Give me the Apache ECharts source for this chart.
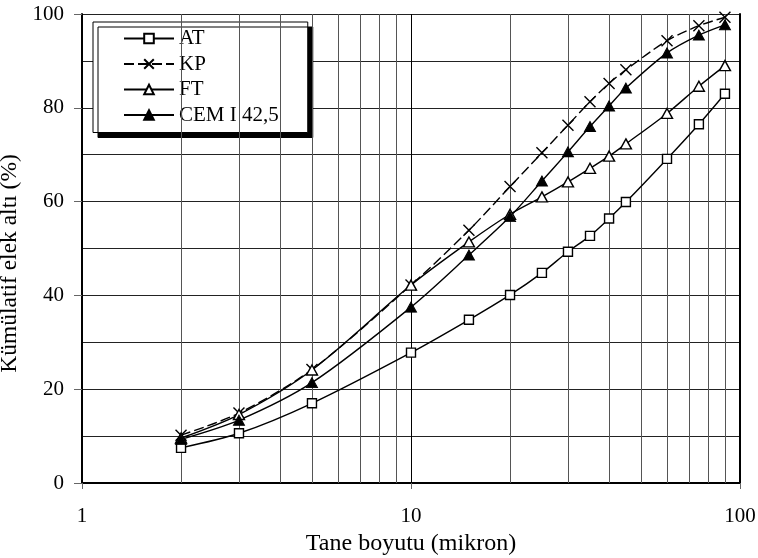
<!DOCTYPE html>
<html>
<head>
<meta charset="utf-8">
<script src="https://cdn.jsdelivr.net/npm/echarts@6/dist/echarts.min.js"></script>
<style>
  html, body { margin: 0; padding: 0; background: #fff; }
  #chart { width: 758px; height: 558px; }
</style>
</head>
<body>
<div id="chart"></div>
<script>
// Particle size (micron) at which each cumulative passing value was measured
const sizes = [2, 3, 5, 10, 15, 20, 25, 30, 35, 40, 45, 60, 75, 90];

// Cumulative passing (%) per material
const atValues  = [7.5, 10.6, 17.0, 27.8, 34.8, 40.1, 44.8, 49.3, 52.7, 56.4, 59.9, 69.1, 76.5, 83.0];
const kpValues  = [10.2, 14.9, 24.2, 42.2, 53.9, 63.2, 70.4, 76.3, 81.3, 85.2, 88.1, 94.3, 97.5, 99.3];
const ftValues  = [9.6, 14.6, 24.1, 42.2, 51.4, 57.3, 61.0, 64.2, 67.1, 69.7, 72.3, 78.8, 84.6, 89.0];
const cemValues = [9.3, 13.4, 21.4, 37.5, 48.6, 56.8, 64.4, 70.6, 76.0, 80.4, 84.2, 91.7, 95.5, 97.7];

const seriesNames = ['AT', 'KP', 'FT', 'CEM I 42,5'];

// Intermediate decade lines of the log grid
const minorSizes = [2, 3, 4, 5, 6, 7, 8, 9, 20, 30, 40, 50, 60, 70, 80, 90];

const FONT = "'Times New Roman', 'Liberation Serif', serif";
const pairs = vals => sizes.map((s, i) => [s, vals[i]]);

const crossPath = 'path://M0,0L10,10M10,0L0,10';

const chart = echarts.init(document.getElementById('chart'), null, { renderer: 'canvas' });

chart.setOption({
  backgroundColor: '#fff',
  animation: false,
  grid: { left: 82, right: 18, top: 14, bottom: 75, containLabel: false, outerBoundsMode: 'none' },
  legend: {
    orient: 'vertical',
    left: 93,
    top: 22,
    data: seriesNames,
    itemWidth: 50,
    itemHeight: 12,
    itemGap: 4.5,
    padding: [6, 29, 7, 30],
    backgroundColor: '#fff',
    borderColor: '#000',
    borderWidth: 1,
    shadowColor: '#000',
    shadowBlur: 0,
    shadowOffsetX: 5,
    shadowOffsetY: 5,
    textStyle: { fontFamily: FONT, fontSize: 21, color: '#000', padding: [0, 0, 0, 0] }
  },
  xAxis: {
    type: 'log',
    logBase: 10,
    min: 1,
    max: 100,
    name: 'Tane boyutu (mikron)',
    nameLocation: 'middle',
    nameGap: 39,
    nameTextStyle: { fontFamily: FONT, fontSize: 24, color: '#000' },
    axisLine: { show: true, lineStyle: { color: '#000', width: 2 } },
    axisTick: { show: true, length: 6, lineStyle: { color: '#666', width: 1 } },
    axisLabel: { fontFamily: FONT, fontSize: 21, color: '#000', margin: 23 },
    splitLine: { show: true, lineStyle: { color: '#000', width: 1 } },
    minorTick: { show: false },
    minorSplitLine: { show: false }
  },
  yAxis: [{
    type: 'value',
    min: 0,
    max: 100,
    interval: 20,
    name: 'Kümülatif elek altı (%)',
    nameLocation: 'middle',
    nameGap: 41,
    nameTextStyle: { fontFamily: FONT, fontSize: 23.5, color: '#000', padding: [0, 30, 0, 0] },
    axisLine: { show: true, lineStyle: { color: '#000', width: 2 } },
    axisTick: { show: true, length: 8, lineStyle: { color: '#666', width: 1 } },
    axisLabel: { fontFamily: FONT, fontSize: 21, color: '#000', margin: 18 },
    splitLine: { show: true, lineStyle: { color: '#222', width: 1 } },
    minorTick: { show: false, splitNumber: 2 },
    minorSplitLine: { show: true, lineStyle: { color: '#222', width: 1 } }
  }, {
    type: 'value',
    position: 'right',
    min: 0,
    max: 100,
    interval: 20,
    axisLine: { show: true, lineStyle: { color: '#000', width: 2 } },
    axisTick: { show: false },
    axisLabel: { show: false },
    splitLine: { show: false }
  }],
  series: [
    {
      name: '',
      type: 'line',
      data: [],
      silent: true,
      z: 1,
      markLine: {
        silent: true,
        symbol: 'none',
        label: { show: false },
        lineStyle: { color: '#555', width: 1, type: 'solid' },
        data: minorSizes.map(v => ({ xAxis: v }))
      }
    },
    {
      name: seriesNames[0],
      type: 'line',
      data: pairs(atValues),
      smooth: 0.3,
      z: 5,
      symbol: 'rect',
      symbolSize: 9,
      showSymbol: true,
      lineStyle: { color: '#000', width: 1.4 },
      itemStyle: { color: '#fff', borderColor: '#000', borderWidth: 1.4 }
    },
    {
      name: seriesNames[1],
      type: 'line',
      data: pairs(kpValues),
      smooth: 0.3,
      z: 5,
      symbol: crossPath,
      symbolSize: 11,
      lineStyle: { color: '#000', width: 1.4, type: [10, 4] },
      itemStyle: { color: 'rgba(0,0,0,0)', borderColor: '#000', borderWidth: 1.4 }
    },
    {
      name: seriesNames[2],
      type: 'line',
      data: pairs(ftValues),
      smooth: 0.3,
      z: 5,
      symbol: 'triangle',
      symbolSize: [11, 10],
      lineStyle: { color: '#000', width: 1.4 },
      itemStyle: { color: '#fff', borderColor: '#000', borderWidth: 1.4 }
    },
    {
      name: seriesNames[3],
      type: 'line',
      data: pairs(cemValues),
      smooth: 0.3,
      z: 5,
      symbol: 'triangle',
      symbolSize: [11, 10],
      lineStyle: { color: '#000', width: 1.4 },
      itemStyle: { color: '#000', borderColor: '#000', borderWidth: 1 }
    }
  ]
});
</script>
</body>
</html>
